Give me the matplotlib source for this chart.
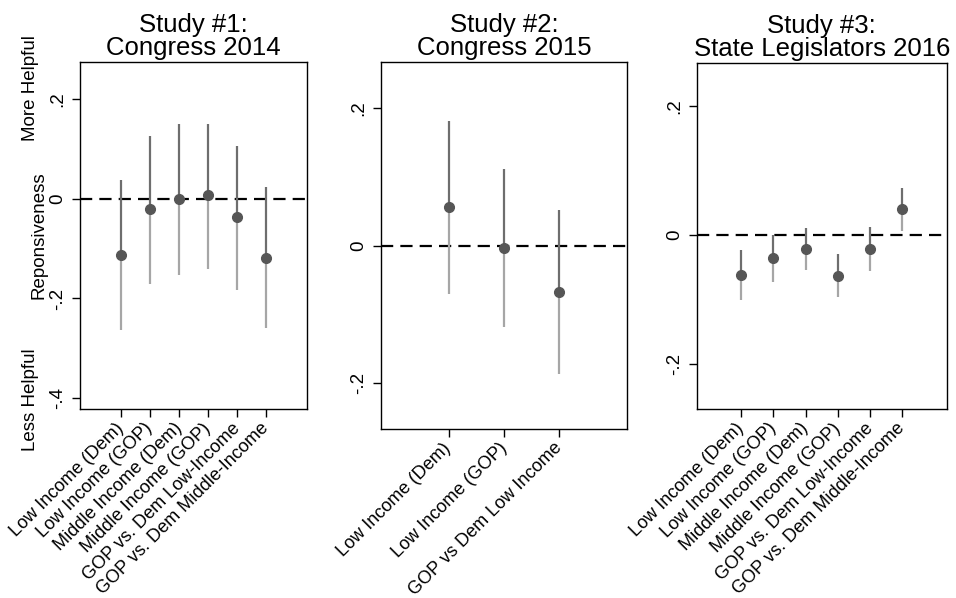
import matplotlib.pyplot as plt
from matplotlib.ticker import FixedLocator
from matplotlib.transforms import ScaledTranslation

plt.rcParams['font.family'] = ['Liberation Sans', 'DejaVu Sans']

# Study 1: Congress 2014
labels_1 = ["Low Income (Dem)", "Low Income (GOP)", "Middle Income (Dem)",
            "Middle Income (GOP)", "GOP vs. Dem Low-Income", "GOP vs. Dem Middle-Income"]
est_1 = [-0.112, -0.021, -0.001, 0.007, -0.037, -0.119]
lo_1 = [-0.263, -0.171, -0.153, -0.140, -0.183, -0.259]
hi_1 = [0.037, 0.127, 0.151, 0.151, 0.107, 0.023]

# Study 2: Congress 2015
labels_2 = ["Low Income (Dem)", "Low Income (GOP)", "GOP vs Dem Low Income"]
est_2 = [0.056, -0.004, -0.067]
lo_2 = [-0.070, -0.119, -0.187]
hi_2 = [0.181, 0.111, 0.052]

# Study 3: State Legislators 2016
labels_3 = labels_1
est_3 = [-0.061, -0.036, -0.021, -0.063, -0.022, 0.040]
lo_3 = [-0.100, -0.073, -0.054, -0.095, -0.056, 0.007]
hi_3 = [-0.023, 0.000, 0.011, -0.029, 0.013, 0.073]

titles = ["Study #1:\nCongress 2014", "Study #2:\nCongress 2015",
          "Study #3:\nState Legislators 2016"]

DARK = "#6e6e6e"
LIGHT = "#a6a6a6"
DOT = "#565656"


def fmt(v):
    if abs(v) < 1e-9:
        return "0"
    s = f"{v:.1f}"
    return s.replace("0.", ".")


def panel(ax, labels, est, lo, hi, title, ylim, xpad, yticks):
    xs = list(range(1, len(labels) + 1))
    ax.axhline(0, color="black", lw=1.6, linestyle=(0, (5.5, 3.2)), zorder=1)
    ax.vlines(xs, est, hi, color=DARK, lw=1.6, zorder=2)
    ax.vlines(xs, lo, est, color=LIGHT, lw=1.6, zorder=2)
    ax.plot(xs, est, "o", color=DOT, ms=7, zorder=3)
    ax.set_xlim(1 - xpad, len(labels) + xpad)
    ax.set_ylim(*ylim)
    ax.set_xticks(xs)
    ax.set_xticklabels(labels, rotation=45, ha="right", va="center",
                       rotation_mode="anchor", fontsize=13.1)
    shift = ScaledTranslation(5 / 72, 2 / 72, fig.dpi_scale_trans)
    for lab in ax.get_xticklabels():
        lab.set_transform(lab.get_transform() + shift)
    ax.yaxis.set_major_locator(FixedLocator(yticks))
    ax.set_yticklabels([fmt(v) for v in yticks], rotation=90, va="center",
                       fontsize=13.5)
    ax.tick_params(direction="out", length=6, width=1, pad=4)
    ax.tick_params(axis="x", pad=6)
    for sp in ax.spines.values():
        sp.set_linewidth(1)
    ax.set_title(title, fontsize=18.5, pad=5, linespacing=0.95)


fig = plt.figure(figsize=(9.56, 5.98), dpi=100)
ax1 = fig.add_axes([0.0837, 0.3161, 0.2375, 0.5802])
ax2 = fig.add_axes([0.3985, 0.2826, 0.2574, 0.6137])
ax3 = fig.add_axes([0.7288, 0.3161, 0.2615, 0.5780])

panel(ax1, labels_1, est_1, lo_1, hi_1, titles[0], (-0.422, 0.275), 1.41, [-0.4, -0.2, 0, 0.2])
panel(ax2, labels_2, est_2, lo_2, hi_2, titles[1], (-0.267, 0.267), 1.22, [-0.2, 0, 0.2])
panel(ax3, labels_3, est_3, lo_3, hi_3, titles[2], (-0.269, 0.266), 1.37, [-0.2, 0, 0.2])

fig.text(0.032, 0.853, "More Helpful", rotation=90, ha="center", va="center", fontsize=13.5)
fig.text(0.041, 0.607, "Reponsiveness", rotation=90, ha="center", va="center", fontsize=13.5)
fig.text(0.032, 0.331, "Less Helpful", rotation=90, ha="center", va="center", fontsize=13.5)

fig.savefig("out.png", dpi=100)
